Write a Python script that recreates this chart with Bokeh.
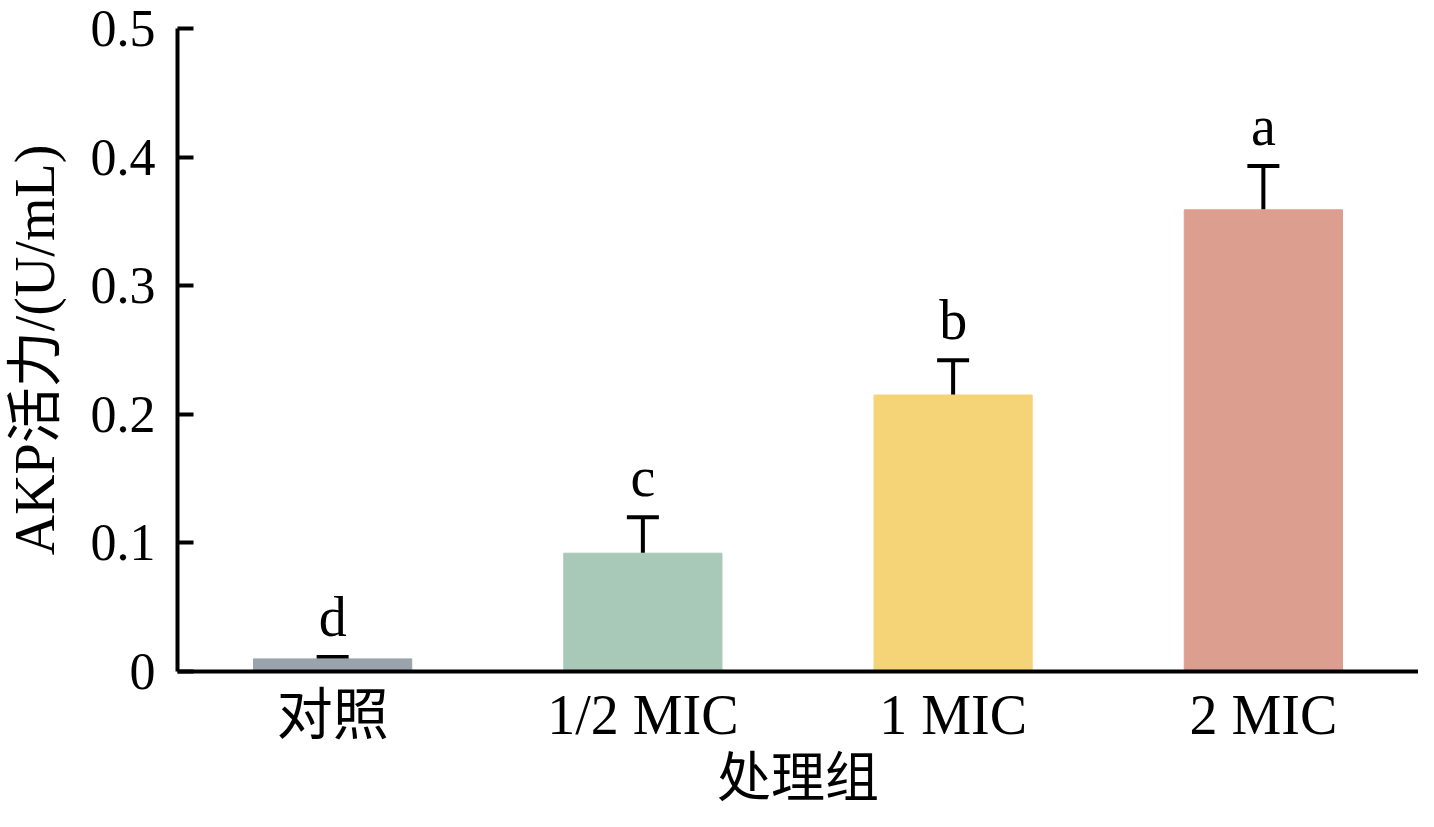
from bokeh.plotting import figure
from bokeh.models import ColumnDataSource, FixedTicker, Whisker, TeeHead
from bokeh.embed import file_html
from bokeh.resources import INLINE
from bokeh.core.properties import value

categories = ["对照", "1/2 MIC", "1 MIC", "2 MIC"]
means = [0.0098, 0.092, 0.215, 0.359]
sds = [0.0015, 0.028, 0.027, 0.034]
letters = ["d", "c", "b", "a"]
colors = ["#9AA3AC", "#A9C9B8", "#F5D377", "#DC9E8E"]
y_ticks = [0, 0.1, 0.2, 0.3, 0.4, 0.5]
y_tick_labels = ["0", "0.1", "0.2", "0.3", "0.4", "0.5"]
x_title = "处理组"
y_title = "AKP活力/(U/mL)"

FONT = "'Liberation Serif', 'Noto Sans CJK SC'"

src = ColumnDataSource(dict(
    cat=categories,
    mean=means,
    upper=[m + s for m, s in zip(means, sds)],
    letter=letters,
    color=colors,
))

p = figure(x_range=categories, y_range=(0, 0.5), width=1418, height=811,
           output_backend="svg", toolbar_location=None,
           min_border_left=176, min_border_right=0, min_border_top=28,
           min_border_bottom=133)

p.vbar(x="cat", top="mean", bottom=0, width=0.51, color="color", source=src)

w = Whisker(base="cat", lower="mean", upper="upper", source=src,
            line_width=4, line_color="black",
            upper_head=TeeHead(size=32, line_width=4, line_color="black"),
            lower_head=None)
p.add_layout(w)

p.text(x="cat", y="upper", text="letter", source=src, text_align="center",
       text_baseline="alphabetic", y_offset=-40, text_font=value(FONT),
       text_font_size="56px", text_color="black")

p.xgrid.visible = False
p.ygrid.visible = False
p.outline_line_color = None

# y axis
ya = p.yaxis[0]
ya.ticker = FixedTicker(ticks=y_ticks)
ya.major_label_overrides = {t: l for t, l in zip(y_ticks, y_tick_labels)}
ya.minor_tick_line_color = None
ya.major_tick_in = 16
ya.major_tick_out = 0
ya.major_tick_line_width = 4
ya.axis_line_width = 4
ya.axis_line_color = "black"
ya.major_tick_line_color = "black"
ya.major_label_text_font = FONT
ya.major_label_text_font_size = "52px"
ya.major_label_text_color = "black"
ya.major_label_standoff = 22
ya.axis_label = y_title
ya.axis_label_text_font = FONT
ya.axis_label_text_font_size = "56px"
ya.axis_label_text_font_style = "normal"
ya.axis_label_text_color = "black"
ya.axis_label_standoff = 22

# x axis
xa = p.xaxis[0]
xa.major_tick_line_color = None
xa.minor_tick_line_color = None
xa.axis_line_width = 4
xa.axis_line_color = "black"
xa.major_label_text_font = FONT
xa.major_label_text_font_size = "56px"
xa.major_label_text_color = "black"
xa.major_label_text_line_height = 0.9
xa.major_label_standoff = 6
xa.axis_label = x_title
xa.axis_label_text_font = FONT
xa.axis_label_text_font_size = "54px"
xa.axis_label_text_font_style = "normal"
xa.axis_label_text_color = "black"
xa.axis_label_text_line_height = 0.9
xa.axis_label_standoff = 0

open("out.html", "w").write(file_html(p, INLINE))
